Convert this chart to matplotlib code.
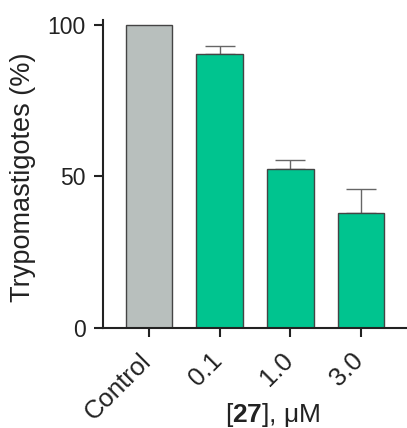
import numpy as np
import matplotlib.pyplot as plt
import matplotlib.transforms as mtransforms

plt.rcParams['font.family'] = ['Liberation Sans', 'DejaVu Sans']
plt.rcParams['mathtext.fontset'] = 'custom'
plt.rcParams['mathtext.rm'] = 'Liberation Sans'
plt.rcParams['mathtext.bf'] = 'Liberation Sans:bold'

categories = ['Control', '0.1', '1.0', '3.0']
values = [100, 90.4, 52.3, 38.0]
errors = [0, 2.7, 3.1, 7.7]
colors = ['#b8bfbd', '#00c48f', '#00c48f', '#00c48f']

fig = plt.figure(figsize=(4.07, 4.28), dpi=100)
ax = fig.add_axes([0.253, 0.2343, 0.747, 0.7185])

x = np.arange(len(categories))
ax.bar(x, values, width=0.66, color=colors, edgecolor='#444444', linewidth=1.0, zorder=2)
for i in range(1, len(x)):
    ax.errorbar(x[i], values[i], yerr=[[0], [errors[i]]], fmt='none',
                ecolor='#666666', elinewidth=1.0, capsize=11, capthick=1.0, zorder=1)

ax.set_xlim(-0.65, 3.65)
ax.set_ylim(0, 101.5)
ax.set_yticks([0, 50, 100])
ax.set_xticks(x)

for s in ['top', 'right']:
    ax.spines[s].set_visible(False)
for s in ['left', 'bottom']:
    ax.spines[s].set_linewidth(1.5)
    ax.spines[s].set_color('#222222')
ax.tick_params(axis='both', direction='out', length=6.5, width=1.5, color='#222222',
               pad=6)
ax.tick_params(axis='y', labelsize=16.5, labelcolor='#222222')
ax.tick_params(axis='x', pad=5)

ax.set_xticklabels(categories, rotation=45, ha='right', va='top', rotation_mode='anchor',
                   fontsize=18.5, color='#222222')
# nudge rotated labels down-left like the original (after tick_params, which resets transforms)
shift = mtransforms.ScaledTranslation(-7 / 72, -3.5 / 72, fig.dpi_scale_trans)
for lab in ax.get_xticklabels():
    lab.set_transform(lab.get_transform() + shift)

ax.set_ylabel('Trypomastigotes (%)', fontsize=19.5, color='#222222')
ax.yaxis.set_label_coords(-0.22, 0.49)
ax.set_xlabel(r'[$\mathbf{27}$], μM', fontsize=19, color='#222222')
ax.xaxis.set_label_coords(0.56, -0.238)

fig.savefig('out.png', dpi=100)
